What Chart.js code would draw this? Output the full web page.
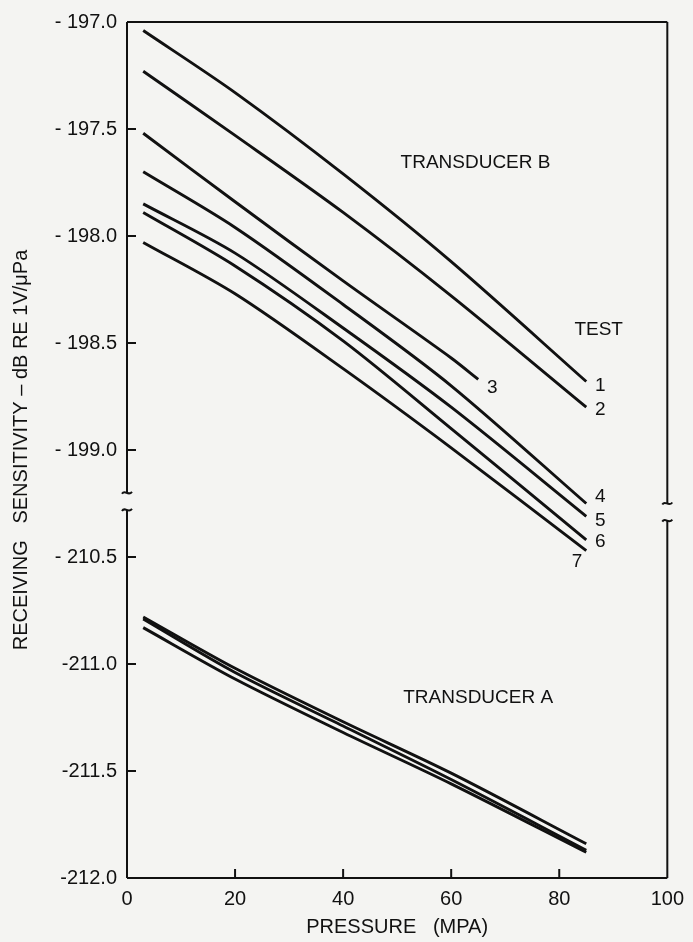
<!DOCTYPE html>
<html>
<head>
<meta charset="utf-8">
<script src="https://cdn.jsdelivr.net/npm/chart.js@4.4.1/dist/chart.umd.min.js"></script>
<style>
  html, body { margin: 0; padding: 0; background: #f4f4f2; }
  #wrap { width: 693px; height: 942px; }
</style>
</head>
<body>
<div id="wrap"><canvas id="chart" width="693" height="942"></canvas></div>
<script>
const pressureB = [3, 20, 40, 60, 85];
const pressureB3 = [3, 20, 40, 60, 65];
const pressureA = [3, 20, 40, 60, 85];

// transducer B, receiving sensitivity (dB re 1V/uPa), one array per test
const test1 = [-197.04, -197.33, -197.71, -198.12, -198.68];
const test2 = [-197.23, -197.53, -197.89, -198.28, -198.80];
const test3 = [-197.52, -197.84, -198.21, -198.57, -198.67];
const test4 = [-197.70, -197.96, -198.32, -198.70, -199.25];
const test5 = [-197.85, -198.08, -198.43, -198.80, -199.31];
const test6 = [-197.89, -198.14, -198.49, -198.90, -199.42];
const test7 = [-198.03, -198.27, -198.62, -198.99, -199.47];

// transducer A, the bundle of nearly coincident curves
const transA1 = [-210.78, -211.02, -211.27, -211.51, -211.84];
const transA2 = [-210.79, -211.04, -211.29, -211.54, -211.87];
const transA3 = [-210.83, -211.07, -211.32, -211.56, -211.88];

const yTickValues = [-197.0, -197.5, -198.0, -198.5, -199.0, -210.5, -211.0, -211.5, -212.0];
const yTickLabels = ['- 197.0', '- 197.5', '- 198.0', '- 198.5', '- 199.0', '- 210.5', '-211.0', '-211.5', '-212.0'];
const xTickValues = [0, 20, 40, 60, 80, 100];

// the axis is broken between -199 and -210.5; values below the break are shifted up
const BREAK_SHIFT = 11;
const toAxis = v => (v < -205 ? v + BREAK_SHIFT : v);

const INK = '#111111';
const FONT = "'Liberation Sans', Arial, sans-serif";

function series(xs, ys) {
  return xs.map((x, i) => ({ x: x, y: toAxis(ys[i]) }));
}

function line(label, xs, ys) {
  return {
    label: label,
    data: series(xs, ys),
    showLine: true,
    borderColor: INK,
    borderWidth: 2.9,
    pointRadius: 0,
    tension: 0.3,
    fill: false
  };
}

// text labels in data units
const notes = [
  { text: 'TRANSDUCER B', x: 64.5, y: -197.66 },
  { text: 'TEST', x: 87.3, y: -198.44 },
  { text: '1', x: 87.6, y: -198.70 },
  { text: '2', x: 87.6, y: -198.81 },
  { text: '3', x: 67.6, y: -198.71 },
  { text: '4', x: 87.6, y: -199.22 },
  { text: '5', x: 87.6, y: -199.33 },
  { text: '6', x: 87.6, y: -199.43 },
  { text: '7', x: 83.3, y: -199.52 },
  { text: 'TRANSDUCER A', x: 65, y: -211.16 }
];

function tilde(ctx, x, y) {
  ctx.beginPath();
  ctx.moveTo(x - 5, y + 1);
  ctx.bezierCurveTo(x - 2, y - 4, x + 1, y + 4, x + 5, y - 1);
  ctx.stroke();
}

const framePlugin = {
  id: 'frame',
  afterDraw(chart) {
    const ctx = chart.ctx;
    const a = chart.chartArea;
    const xs = chart.scales.x, ys = chart.scales.y;
    ctx.save();
    ctx.strokeStyle = INK;
    ctx.lineWidth = 2;

    const lb1 = ys.getPixelForValue(-199.2), lb2 = ys.getPixelForValue(-199.28);
    const rb1 = ys.getPixelForValue(-199.25), rb2 = ys.getPixelForValue(-199.33);

    ctx.beginPath();
    ctx.moveTo(a.left, a.top); ctx.lineTo(a.right, a.top);
    ctx.moveTo(a.left, a.bottom); ctx.lineTo(a.right, a.bottom);
    ctx.moveTo(a.left, a.top); ctx.lineTo(a.left, lb1);
    ctx.moveTo(a.left, lb2); ctx.lineTo(a.left, a.bottom);
    ctx.moveTo(a.right, a.top); ctx.lineTo(a.right, rb1);
    ctx.moveTo(a.right, rb2); ctx.lineTo(a.right, a.bottom);
    ctx.stroke();
    tilde(ctx, a.left, lb1);
    tilde(ctx, a.left, lb2);
    tilde(ctx, a.right, rb1);
    tilde(ctx, a.right, rb2);

    // inward tick marks
    ctx.beginPath();
    yTickValues.forEach(v => {
      const py = ys.getPixelForValue(toAxis(v));
      ctx.moveTo(a.left, py); ctx.lineTo(a.left + 9, py);
    });
    xTickValues.slice(1, -1).forEach(v => {
      const px = xs.getPixelForValue(v);
      ctx.moveTo(px, a.bottom); ctx.lineTo(px, a.bottom - 9);
    });
    ctx.stroke();

    ctx.fillStyle = INK;
    ctx.textAlign = 'center';
    ctx.textBaseline = 'middle';
    ctx.font = '19px ' + FONT;
    notes.forEach(n => {
      ctx.fillText(n.text, xs.getPixelForValue(n.x), ys.getPixelForValue(toAxis(n.y)));
    });
    ctx.restore();
  }
};

new Chart(document.getElementById('chart'), {
  type: 'scatter',
  data: {
    datasets: [
      line('Test 1', pressureB, test1),
      line('Test 2', pressureB, test2),
      line('Test 3', pressureB3, test3),
      line('Test 4', pressureB, test4),
      line('Test 5', pressureB, test5),
      line('Test 6', pressureB, test6),
      line('Test 7', pressureB, test7),
      line('Transducer A', pressureA, transA1),
      line('Transducer A', pressureA, transA2),
      line('Transducer A', pressureA, transA3)
    ]
  },
  options: {
    responsive: false,
    animation: false,
    layout: { padding: { top: 17, right: 22, left: 0, bottom: 0 } },
    plugins: { legend: { display: false }, tooltip: { enabled: false } },
    scales: {
      x: {
        type: 'linear',
        min: 0,
        max: 100,
        afterBuildTicks: s => { s.ticks = xTickValues.map(v => ({ value: v })); },
        afterFit: s => { s.height = 64; },
        grid: { display: false, drawTicks: false },
        border: { display: false },
        ticks: { color: INK, padding: 9, font: { family: FONT, size: 20 } },
        title: {
          display: true,
          text: 'PRESSURE   (MPA)',
          color: INK,
          padding: { top: 0, bottom: 3 },
          font: { family: FONT, size: 20 }
        }
      },
      y: {
        type: 'linear',
        min: toAxis(-212.0),
        max: -197.0,
        afterBuildTicks: s => { s.ticks = yTickValues.map(v => ({ value: toAxis(v) })); },
        afterFit: s => { s.width = 127; },
        grid: { display: false, drawTicks: false },
        border: { display: false },
        ticks: {
          color: INK,
          padding: 10,
          font: { family: FONT, size: 20 },
          callback: v => {
            const i = yTickValues.findIndex(t => Math.abs(toAxis(t) - v) < 1e-6);
            return i >= 0 ? yTickLabels[i] : '';
          }
        },
        title: {
          display: true,
          text: 'RECEIVING   SENSITIVITY – dB RE 1V/μPa',
          color: INK,
          padding: { top: 9, bottom: 0 },
          font: { family: FONT, size: 20 }
        }
      }
    }
  },
  plugins: [framePlugin]
});
</script>
</body>
</html>
